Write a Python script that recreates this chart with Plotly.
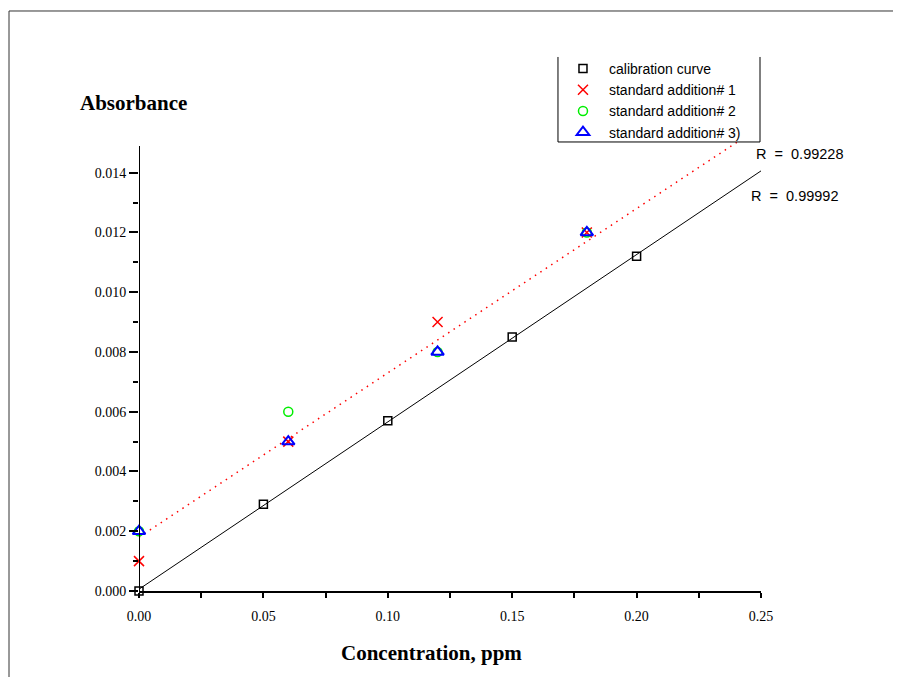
import numpy as np
import plotly.graph_objects as go

# ---------------- data ----------------
calib_x = [0.00, 0.05, 0.10, 0.15, 0.20]
calib_y = [0.0000, 0.0029, 0.0057, 0.0085, 0.0112]

add_x = [0.00, 0.06, 0.12, 0.18]
add1_y = [0.0010, 0.0050, 0.0090, 0.0120]
add2_y = [0.0020, 0.0060, 0.0080, 0.0120]
add3_y = [0.0020, 0.0050, 0.0080, 0.0120]

legend_names = ["calibration curve", "standard addition# 1",
                "standard addition# 2", "standard addition# 3)"]
r_labels = ["R &nbsp;= &nbsp;0.99228", "R &nbsp;= &nbsp;0.99992"]

x_ticks = [0.00, 0.05, 0.10, 0.15, 0.20, 0.25]
x_minor = [0.025, 0.075, 0.125, 0.175, 0.225]
y_ticks = [0.000, 0.002, 0.004, 0.006, 0.008, 0.010, 0.012, 0.014]
y_minor = [0.001, 0.003, 0.005, 0.007, 0.009, 0.011, 0.013]

X_RANGE = [0.0, 0.25]
Y_RANGE = [0.0, 0.0165]
Y_AXIS_TOP = 0.01489

# fits
c_slope, c_int = np.polyfit(calib_x, calib_y, 1)
a_slope, a_int = np.polyfit(add_x, add3_y, 1)
fit_x = np.array(X_RANGE)

fig = go.Figure()

fig.add_trace(go.Scatter(x=fit_x, y=c_slope * fit_x + c_int, mode="lines",
                         line=dict(color="black", width=1), showlegend=False,
                         hoverinfo="skip", cliponaxis=False))
fig.add_trace(go.Scatter(x=fit_x, y=a_slope * fit_x + a_int, mode="lines",
                         line=dict(color="#FF0000", width=1.5, dash="1.5px,5px"),
                         showlegend=False, hoverinfo="skip", cliponaxis=False))

fig.add_trace(go.Scatter(x=calib_x, y=calib_y, mode="markers", name=legend_names[0],
                         marker=dict(symbol="square-open", size=8, color="black",
                                     line=dict(width=1.5)), cliponaxis=False))
fig.add_trace(go.Scatter(x=add_x, y=add1_y, mode="markers", name=legend_names[1],
                         marker=dict(symbol="x-thin", size=10, color="#FF0000",
                                     line=dict(width=1.5, color="#FF0000")), cliponaxis=False))
fig.add_trace(go.Scatter(x=add_x, y=add2_y, mode="markers", name=legend_names[2],
                         marker=dict(symbol="circle-open", size=9, color="#00EE00",
                                     line=dict(width=1.5)), cliponaxis=False))
fig.add_trace(go.Scatter(x=add_x, y=add3_y, mode="markers", name=legend_names[3],
                         marker=dict(symbol="triangle-up-open", size=11, color="#0000FF",
                                     line=dict(width=2)), cliponaxis=False))

serif = "Liberation Serif, Times New Roman, serif"
sans = "Liberation Sans, Arial, sans-serif"

# page body has an 8px margin: figure is shifted by (8, 8)
fig.update_layout(
    width=893, height=669, autosize=False,
    margin=dict(l=131, r=140, t=90, b=86),
    paper_bgcolor="white", plot_bgcolor="white",
    xaxis=dict(range=X_RANGE, showgrid=False, zeroline=False,
               showline=True, linecolor="black", linewidth=2,
               tickmode="array", tickvals=x_ticks,
               ticktext=[f"{v:.2f}" for v in x_ticks],
               ticks="outside", ticklen=5, tickwidth=2, tickcolor="black",
               ticklabelstandoff=6,
               tickfont=dict(family=serif, size=14, color="black"),
               minor=dict(tickmode="array", tickvals=x_minor, ticks="outside",
                          ticklen=5, tickwidth=2, tickcolor="black")),
    yaxis=dict(range=Y_RANGE, showgrid=False, zeroline=False, showline=False,
               tickmode="array", tickvals=y_ticks,
               ticktext=[f"{v:.3f}" for v in y_ticks],
               ticks="outside", ticklen=9, tickwidth=2, tickcolor="black",
               tickfont=dict(family=serif, size=14, color="black"),
               minor=dict(tickmode="array", tickvals=y_minor, ticks="outside",
                          ticklen=5, tickwidth=2, tickcolor="black")),
    legend=dict(x=0.6720, y=1.0913, xanchor="left", yanchor="top",
                bgcolor="rgba(0,0,0,0)", borderwidth=0, itemwidth=42,
                font=dict(family=sans, size=14, color="black"),
                tracegroupgap=0),
    showlegend=True,
)

shapes = [
    # outer frame
    dict(type="rect", xref="paper", yref="paper", x0=-0.209, x1=1.4, y0=-0.3, y1=1.1765,
         line=dict(color="#333333", width=1), layer="below"),
    # y axis line
    dict(type="line", xref="x", yref="y", x0=0, x1=0, y0=0, y1=Y_AXIS_TOP,
         line=dict(color="black", width=2), layer="above"),
    # legend box (white fill, 3 sides)
    dict(type="rect", xref="paper", yref="paper", x0=0.6736, x1=0.9984, y0=0.9108, y1=1.0832,
         fillcolor="white", line=dict(width=0), layer="above"),
    dict(type="line", xref="paper", yref="paper", x0=0.6736, x1=0.6736, y0=0.9108, y1=1.0832,
         line=dict(color="black", width=1), layer="above"),
    dict(type="line", xref="paper", yref="paper", x0=0.9984, x1=0.9984, y0=0.9108, y1=1.0832,
         line=dict(color="black", width=1), layer="above"),
    dict(type="line", xref="paper", yref="paper", x0=0.6736, x1=0.9984, y0=0.9108, y1=0.9108,
         line=dict(color="black", width=1), layer="above"),
]
fig.update_layout(shapes=shapes)

fig.add_annotation(text=r_labels[0], xref="paper", yref="paper", x=0.988, y=0.8864,
                   xanchor="left", yanchor="middle", showarrow=False,
                   font=dict(family=sans, size=14.5, color="black"))
fig.add_annotation(text=r_labels[1], xref="paper", yref="paper", x=0.981, y=0.8012,
                   xanchor="left", yanchor="middle", showarrow=False,
                   font=dict(family=sans, size=14.5, color="black"))
fig.add_annotation(text="<b>Absorbance</b>", xref="paper", yref="paper", x=-0.0096, y=0.9899,
                   xanchor="center", yanchor="middle", showarrow=False,
                   font=dict(family=serif, size=21, color="black"))
fig.add_annotation(text="<b>Concentration, ppm</b>", xref="paper", yref="paper", x=0.4695, y=-0.1258,
                   xanchor="center", yanchor="middle", showarrow=False,
                   font=dict(family=serif, size=21, color="black"))

fig.write_html("out.html")
